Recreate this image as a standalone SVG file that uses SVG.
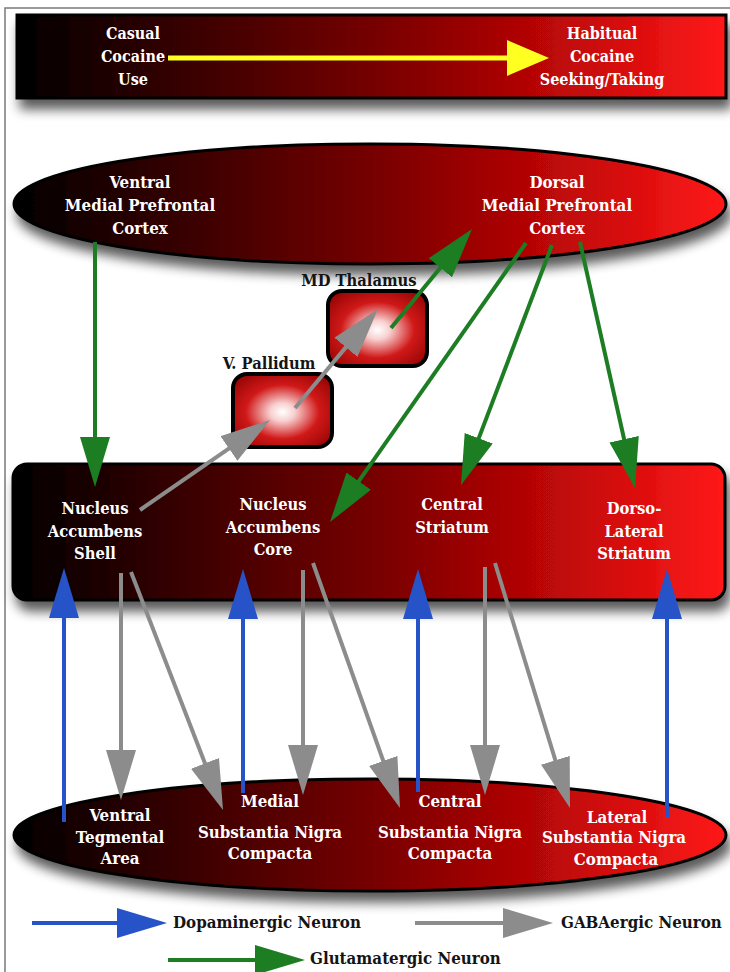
<svg xmlns="http://www.w3.org/2000/svg" width="730" height="972" viewBox="0 0 730 972">
<defs>
<style>
text{font-family:'DejaVu Serif Condensed','DejaVu Serif','Liberation Serif',serif;font-weight:bold;font-size:16.8px;text-anchor:middle}
.w{fill:#ffffff}
.k{fill:#141414}
.t{font-size:16px}
.s{font-size:16.4px}
.lg{text-anchor:start;font-size:16.8px}
.node{stroke:#000;stroke-width:3}
.box{stroke:#000;stroke-width:4}
.blue{stroke:#2753c9;stroke-width:4;fill:none;marker-end:url(#mb)}
.gray{stroke:#8c8c8c;stroke-width:4;fill:none;marker-end:url(#mg)}
.green{stroke:#1c7d22;stroke-width:4;fill:none;marker-end:url(#mgr)}
</style>
<linearGradient id="grad" x1="0" y1="0" x2="1" y2="0">
<stop offset="0" stop-color="#000000"/>
<stop offset="0.12" stop-color="#1c0000"/>
<stop offset="0.5" stop-color="#750000"/>
<stop offset="0.8" stop-color="#c80808"/>
<stop offset="1" stop-color="#ff1a1a"/>
</linearGradient>
<radialGradient id="rad" cx="0.5" cy="0.52" r="0.62">
<stop offset="0" stop-color="#ffffff"/>
<stop offset="0.2" stop-color="#f8d0d0"/>
<stop offset="0.6" stop-color="#d01818"/>
<stop offset="1" stop-color="#9a0606"/>
</radialGradient>
<filter id="sh" x="-10%" y="-20%" width="125%" height="160%">
<feGaussianBlur in="SourceAlpha" stdDeviation="6"/>
<feOffset dx="4" dy="10" result="o"/>
<feComponentTransfer><feFuncA type="linear" slope="0.65"/></feComponentTransfer>
<feMerge><feMergeNode/><feMergeNode in="SourceGraphic"/></feMerge>
</filter>
<marker id="mb" markerUnits="userSpaceOnUse" markerWidth="52" markerHeight="32" refX="10" refY="15" orient="auto"><path d="M0,0 L50,15 L0,30 Z" fill="#2753c9"/></marker>
<marker id="mg" markerUnits="userSpaceOnUse" markerWidth="52" markerHeight="32" refX="10" refY="15" orient="auto"><path d="M0,0 L50,15 L0,30 Z" fill="#8c8c8c"/></marker>
<marker id="mgr" markerUnits="userSpaceOnUse" markerWidth="52" markerHeight="32" refX="10" refY="15" orient="auto"><path d="M0,0 L50,15 L0,30 Z" fill="#1c7d22"/></marker>
</defs>
<rect width="730" height="972" fill="#ffffff"/>
<rect x="5" y="8" width="740" height="980" fill="none" stroke="#7a7a7a" stroke-width="1.5"/>

<g id="timeline">
<rect class="node" x="17" y="15" width="709" height="83" fill="url(#grad)" filter="url(#sh)"/>
<text class="w t" x="133" y="39">Casual</text>
<text class="w t" x="133" y="62">Cocaine</text>
<text class="w t" x="133" y="85">Use</text>
<text class="w t" x="602" y="39">Habitual</text>
<text class="w t" x="602" y="62">Cocaine</text>
<text class="w t" x="602" y="85">Seeking/Taking</text>
<line x1="168" y1="58" x2="510" y2="58" stroke="#ffff22" stroke-width="5"/>
<polygon points="507,40 549,58 507,76" fill="#ffff22"/>
</g>

<g id="pfc">
<ellipse class="node" cx="370" cy="204" rx="356" ry="60" fill="url(#grad)" filter="url(#sh)"/>
<text class="w" x="140" y="188">Ventral</text>
<text class="w" x="140" y="211">Medial Prefrontal</text>
<text class="w" x="140" y="234">Cortex</text>
<text class="w" x="557" y="188">Dorsal</text>
<text class="w" x="557" y="211">Medial Prefrontal</text>
<text class="w" x="557" y="234">Cortex</text>
</g>

<g id="md-thalamus">
<rect class="box" x="328" y="291" width="99" height="75" rx="14" fill="url(#rad)"/>
<text class="k s" x="359" y="286">MD Thalamus</text>
</g>

<g id="v-pallidum">
<rect class="box" x="233" y="374" width="99" height="73" rx="14" fill="url(#rad)"/>
<text class="k s" x="269" y="369">V. Pallidum</text>
</g>

<g id="striatum">
<rect class="node" x="13" y="464" width="712" height="136" rx="14" fill="url(#grad)" filter="url(#sh)"/>
<text class="w s" x="95" y="514">Nucleus</text>
<text class="w s" x="95" y="537">Accumbens</text>
<text class="w s" x="95" y="559">Shell</text>
<text class="w s" x="273" y="510">Nucleus</text>
<text class="w s" x="273" y="533">Accumbens</text>
<text class="w s" x="273" y="555">Core</text>
<text class="w s" x="452" y="510">Central</text>
<text class="w s" x="452" y="533">Striatum</text>
<text class="w s" x="634" y="514">Dorso-</text>
<text class="w s" x="634" y="537">Lateral</text>
<text class="w s" x="634" y="559">Striatum</text>
</g>

<g id="midbrain">
<ellipse class="node" cx="370" cy="835" rx="356" ry="56" fill="url(#grad)" filter="url(#sh)"/>
<text class="w" x="120" y="821">Ventral</text>
<text class="w" x="120" y="843">Tegmental</text>
<text class="w" x="120" y="864">Area</text>
<text class="w" x="270" y="807">Medial</text>
<text class="w" x="270" y="838">Substantia Nigra</text>
<text class="w" x="270" y="859">Compacta</text>
<text class="w" x="450" y="807">Central</text>
<text class="w" x="450" y="838">Substantia Nigra</text>
<text class="w" x="450" y="859">Compacta</text>
<text class="w" x="617" y="823">Lateral</text>
<text class="w" x="614" y="843">Substantia Nigra</text>
<text class="w" x="616" y="865">Compacta</text>
</g>

<g id="connectors">
<line class="green" x1="95" y1="242" x2="95" y2="447"/>
<line class="green" x1="391" y1="328" x2="446.7" y2="260"/>
<line class="green" x1="526" y1="243" x2="353" y2="489.3"/>
<line class="green" x1="552" y1="245" x2="475.2" y2="447.6"/>
<line class="green" x1="580" y1="242" x2="626.3" y2="449"/>
<line class="gray" x1="140" y1="510" x2="237.1" y2="442.8"/>
<line class="gray" x1="295" y1="408" x2="352.3" y2="339.6"/>
<line class="gray" x1="121" y1="573" x2="121" y2="760"/>
<line class="gray" x1="131" y1="572" x2="208.6" y2="772.7"/>
<line class="gray" x1="303" y1="570" x2="303" y2="755"/>
<line class="gray" x1="313" y1="563" x2="386.6" y2="770.3"/>
<line class="gray" x1="485" y1="567" x2="485" y2="755"/>
<line class="gray" x1="495" y1="563" x2="558.3" y2="769.8"/>
<line class="blue" x1="64" y1="822" x2="64" y2="608"/>
<line class="blue" x1="243" y1="793" x2="243" y2="609"/>
<line class="blue" x1="418" y1="792" x2="418" y2="609"/>
<line class="blue" x1="667" y1="817" x2="667" y2="609"/>
</g>

<g id="legend">
<line class="blue" x1="32" y1="923" x2="127" y2="923"/>
<text class="k lg" x="173" y="928">Dopaminergic Neuron</text>
<line class="gray" x1="415" y1="923" x2="513" y2="923"/>
<text class="k lg" x="561" y="928">GABAergic Neuron</text>
<line class="green" x1="168" y1="960" x2="265" y2="960"/>
<text class="k lg" x="310" y="964">Glutamatergic Neuron</text>
</g>
</svg>
